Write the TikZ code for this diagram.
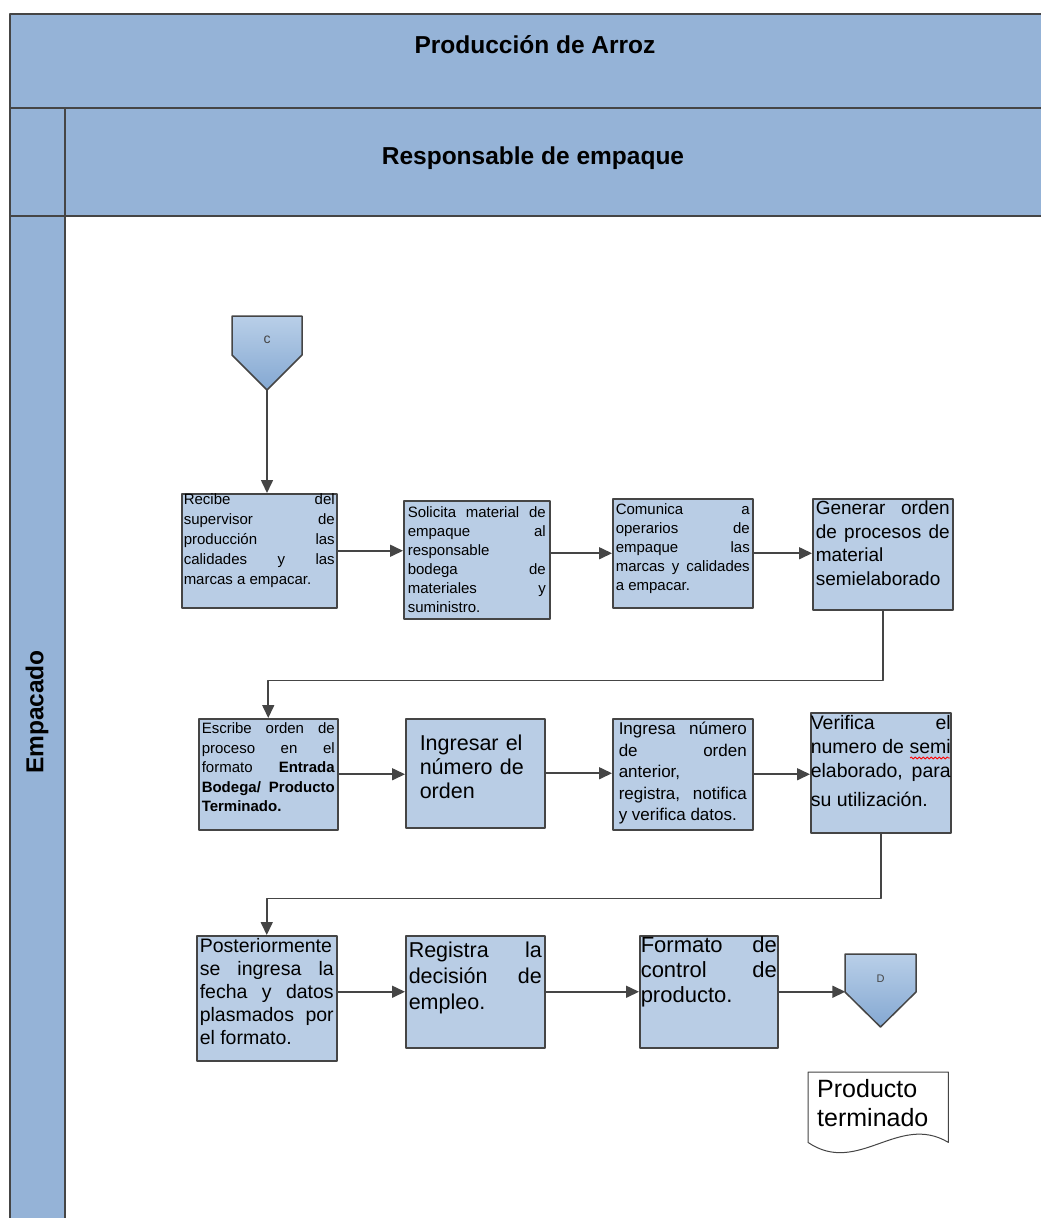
\documentclass[tikz,border=0pt]{standalone}
\usepackage{fontspec}
\setmainfont{Liberation Sans}
\usetikzlibrary{arrows.meta,decorations.pathmorphing}
\definecolor{lanecol}{HTML}{95B3D7}
\definecolor{boxcol}{HTML}{B9CDE5}
\definecolor{edgecol}{HTML}{454545}
\definecolor{conntop}{HTML}{B9CFE8}
\definecolor{connbot}{HTML}{84A8D2}
\begin{document}
\begin{tikzpicture}[x=1pt, y=-1pt, line join=round, >={Triangle[length=13pt,width=12pt]},
	proc/.style={draw=edgecol, fill=boxcol, line width=1.5pt, anchor=north west, inner ysep=0pt, align=justify},
	flow/.style={->, draw=edgecol, line width=1.6pt},
	band/.style={draw=edgecol, fill=lanecol, line width=1.5pt},
	offpage/.style={draw=edgecol, line width=1.5pt, top color=conntop, bottom color=connbot},
	conn/.style={anchor=north, inner sep=0pt, minimum width=70pt, text=edgecol},
	head/.style={font=\bfseries\fontsize{24.5}{26}\selectfont}]
	\clip (0,0) rectangle (1041,1218);
	\fill[white] (0,0) rectangle (1041,1218);
	% pool and lane
	\draw[band] (10,14) rectangle (1070,108);
	\draw[band] (10,108) rectangle (1070,216);
	\draw[band] (10,216) rectangle (65,1240);
	\draw[edgecol, line width=1.5pt] (65,108) -- (65,216);
	\node[head] (titulo) at (535,45) {Producción de Arroz};
	\node[head] (rol) at (533,158) {Responsable de empaque};
	\node[head, rotate=90] (carril) at (37,712) {Empacado};
	% off-page connectors
	\shade[offpage] (232,316) -- (302,316) -- (302,355) -- (267,390) -- (232,355) -- cycle;
	\node[conn, font=\fontsize{14}{14}\selectfont, text height=27pt, text depth=47pt] (conC) at (267,316) {c};
	\shade[offpage] (845,954) -- (916,954) -- (916,992) -- (880.5,1027) -- (845,992) -- cycle;
	\node[conn, font=\fontsize{11}{11}\selectfont, text height=28pt, text depth=45pt] (conD) at (880.5,954) {D};
	% first row
	\node[proc, text width=151pt, inner xsep=2pt, text height=11pt, text depth=103pt, font=\fontsize{15}{20}\selectfont] (recibe) at (181,493)
		{Recibe del\linebreak supervisor de\linebreak producción las\linebreak calidades y las\linebreak marcas a empacar.};
	\node[proc, text width=138pt, inner xsep=4pt, text height=17pt, text depth=101pt, font=\fontsize{15}{19}\selectfont] (solicita) at (403,500)
		{Solicita material de\linebreak empaque al\linebreak responsable\linebreak bodega de\linebreak materiales y\linebreak suministro.};
	\node[proc, text width=134pt, inner xsep=3pt, text height=16pt, text depth=93pt, font=\fontsize{15}{19}\selectfont] (comunica) at (612,498)
		{Comunica a\linebreak operarios de\linebreak empaque las\linebreak marcas y calidades\linebreak a empacar.};
	\node[proc, text width=134pt, inner xsep=3pt, text height=16pt, text depth=95pt, font=\fontsize{19}{23.5}\selectfont] (generar) at (812,498)
		{Generar orden\linebreak de procesos de\linebreak material\linebreak semielaborado};
	% second row
	\node[proc, text width=133pt, inner xsep=3pt, text height=15pt, text depth=96pt, font=\fontsize{15}{19.5}\selectfont] (escribe) at (198,718)
		{Escribe orden de\linebreak proceso en el\linebreak formato \textbf{Entrada}\linebreak \textbf{Bodega/ Producto}\linebreak \textbf{Terminado.}};
	\node[proc, align=left, text width=111pt, inner xsep=14pt, text height=32pt, text depth=77pt, font=\fontsize{21.5}{24}\selectfont] (ingresar) at (405,718)
		{Ingresar el\\ número de\\ orden};
	\node[proc, text width=128pt, inner xsep=6pt, text height=16pt, text depth=95pt, font=\fontsize{17}{21.5}\selectfont] (ingresa) at (612,718)
		{Ingresa número\linebreak de orden\linebreak anterior,\linebreak registra, notifica\linebreak y verifica datos.};
	\node[proc, text width=140pt, inner xsep=0pt, text height=17pt, text depth=103pt, font=\fontsize{19.5}{24}\selectfont] (verifica) at (810,712)
		{Verifica el\linebreak numero de semi\linebreak elaborado, para\vadjust{\vskip5pt}\linebreak su utilización.};
	\draw[red, line width=0.8pt, decorate, decoration={snake, amplitude=1pt, segment length=4pt}] (910,758) -- (950,758);
	% third row
	\node[proc, text width=134pt, inner xsep=3pt, text height=17pt, text depth=108pt, font=\fontsize{19.5}{23}\selectfont] (posterior) at (196,935)
		{Posteriormente\linebreak se ingresa la\linebreak fecha y datos\linebreak plasmados por\linebreak el formato.};
	\node[proc, text width=133pt, inner xsep=3pt, text height=22pt, text depth=90pt, font=\fontsize{21.5}{26}\selectfont] (registra) at (405,935)
		{Registra la\linebreak decisión de\linebreak empleo.};
	\node[proc, text width=136pt, inner xsep=1pt, text height=17pt, text depth=95pt, font=\fontsize{22}{25}\selectfont] (formato) at (639,935)
		{Formato de\linebreak control de\linebreak producto.};
	% document
	\node[anchor=north west, inner xsep=9pt, inner ysep=0pt, text width=122pt, align=left, text height=25pt, text depth=45pt, font=\fontsize{25}{29}\selectfont] (prodterm) at (808,1072) {};
	\draw[fill=white, draw=edgecol, line width=1pt] (prodterm.north west) -- (prodterm.north east) -- (prodterm.south east)
		.. controls +(-50,-30) and +(50,34) .. (prodterm.south west) -- cycle;
	\node[anchor=north west, inner xsep=9pt, inner ysep=0pt, text width=122pt, align=left, text height=25pt, text depth=45pt, font=\fontsize{25}{29}\selectfont] (prodtxt) at (808,1072) {Producto\\ terminado};
	% connectors
	\draw[flow] (conC.south) -- (conC.south |- recibe.north);
	\draw[flow] (recibe.east) -- (recibe.east -| solicita.west);
	\draw[flow] (comunica.west -| solicita.east) -- (comunica.west);
	\draw[flow] (comunica.east) -- (comunica.east -| generar.west);
	\draw[flow] (generar.south) -- ++(0,70) -| (escribe.north);
	\draw[flow] (escribe.east) -- (escribe.east -| ingresar.west);
	\draw[flow] (ingresar.east) -- (ingresar.east -| ingresa.west);
	\draw[flow] (ingresa.east) -- (ingresa.east -| verifica.west);
	\draw[flow] (verifica.south) -- ++(0,65) -| (posterior.north);
	\draw[flow] (registra.west -| posterior.east) -- (registra.west);
	\draw[flow] (registra.east) -- (formato.west);
	\draw[flow] (formato.east) -- (formato.east -| conD.west);
\end{tikzpicture}
\end{document}
